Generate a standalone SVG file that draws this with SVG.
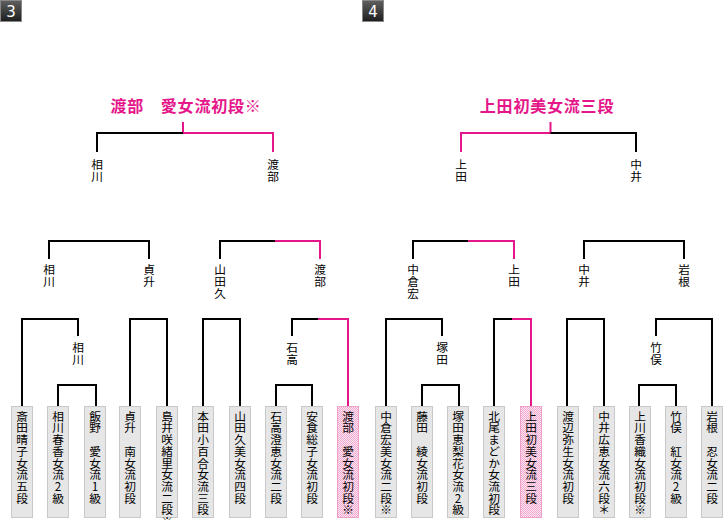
<svg xmlns="http://www.w3.org/2000/svg" width="724" height="520" viewBox="0 0 724 520">
<style>
.v{writing-mode:vertical-rl;text-orientation:upright;font-family:"Noto Sans CJK JP","Noto Sans CJK SC",sans-serif;font-size:11.7px;fill:#000}
.t{font-family:"Noto Sans CJK JP","Noto Sans CJK SC",sans-serif;font-size:16px;font-weight:bold;fill:#e5168a;text-anchor:middle;letter-spacing:0.8px}
.k{stroke:#000;stroke-width:2;fill:none}
.p{stroke:#e5168a;stroke-width:2;fill:none}
.box{fill:#e6e6e6;stroke:#c8c8c8;stroke-width:1}
.pbox{fill:url(#pk);stroke:#f0a0c8;stroke-width:1}
.badge{fill:url(#bg);stroke:#888;stroke-width:1}
.bn{font-family:"DejaVu Sans",sans-serif;font-size:15px;fill:#fff;text-anchor:middle}
</style>
<defs>
<linearGradient id="bg" x1="0" y1="0" x2="0" y2="1"><stop offset="0" stop-color="#606060"/><stop offset="1" stop-color="#1e1e1e"/></linearGradient>
<pattern id="pk" width="2" height="2" patternUnits="userSpaceOnUse"><rect width="2" height="2" fill="#fce6f1"/><rect width="1" height="1" fill="#f3a9cf"/><rect x="1" y="1" width="1" height="1" fill="#f3a9cf"/></pattern>
</defs>

<g id="badge3"><rect class="badge" x="0.5" y="0.5" width="21" height="21"/><text class="bn" x="11" y="16.5">3</text></g>
<g id="badge4"><rect class="badge" x="362.5" y="0.5" width="21" height="21"/><text class="bn" x="373" y="16.5">4</text></g>

<g id="connectors">
<path class="p" d="M183 122V133H273V152"/>
<path class="k" d="M183 133H97V152"/>
<path class="k" d="M49 259V241H149V259"/>
<path class="k" d="M220 259V241H275"/>
<path class="p" d="M275 241H320V259"/>
<path class="k" d="M22 406V319H78V336"/>
<path class="k" d="M130 406V319H167V406"/>
<path class="k" d="M203 406V319H240V406"/>
<path class="k" d="M292 336V319H318"/>
<path class="p" d="M318 319H348V406"/>
<path class="k" d="M58 406V385H96V406"/>
<path class="k" d="M276 406V385H312V406"/>
<path class="p" d="M550.5 122V133H461V152"/>
<path class="k" d="M550.5 133H636V152"/>
<path class="k" d="M413 259V241H468"/>
<path class="p" d="M468 241H514V259"/>
<path class="k" d="M584 259V241H684V259"/>
<path class="k" d="M386 406V319H442V336"/>
<path class="k" d="M494 406V319H512"/>
<path class="p" d="M512 319H531V406"/>
<path class="k" d="M567 406V319H604V406"/>
<path class="k" d="M656 336V319H712V406"/>
<path class="k" d="M422 406V385H459V406"/>
<path class="k" d="M639 406V385H676V406"/>
</g>

<g id="title3"><text class="t" x="186" y="112">渡部　愛女流初段※</text></g>
<g id="title4"><text class="t" x="547" y="112">上田初美女流三段</text></g>

<g id="l-r1a"><text class="v" x="97" y="159">相川</text></g>
<g id="l-r1b"><text class="v" x="273" y="159">渡部</text></g>
<g id="l-r2a"><text class="v" x="49" y="264">相川</text></g>
<g id="l-r2b"><text class="v" x="149" y="264">貞升</text></g>
<g id="l-r2c"><text class="v" x="220" y="264">山田久</text></g>
<g id="l-r2d"><text class="v" x="320" y="264">渡部</text></g>
<g id="l-r3a"><text class="v" x="78" y="342">相川</text></g>
<g id="l-r3b"><text class="v" x="292" y="342">石高</text></g>

<g id="r-r1a"><text class="v" x="461" y="159">上田</text></g>
<g id="r-r1b"><text class="v" x="636" y="159">中井</text></g>
<g id="r-r2a"><text class="v" x="413" y="264">中倉宏</text></g>
<g id="r-r2b"><text class="v" x="514" y="264">上田</text></g>
<g id="r-r2c"><text class="v" x="584" y="264">中井</text></g>
<g id="r-r2d"><text class="v" x="684" y="264">岩根</text></g>
<g id="r-r3a"><text class="v" x="442" y="342">塚田</text></g>
<g id="r-r3b"><text class="v" x="656" y="342">竹俣</text></g>

<g id="p1"><rect class="box" x="11.5" y="406.5" width="21" height="111"/><text class="v" x="22" y="410.5">斎田晴子女流五段</text></g>
<g id="p2"><rect class="box" x="47.5" y="406.5" width="21" height="111"/><text class="v" x="58" y="410.5">相川春香女流2級</text></g>
<g id="p3"><rect class="box" x="84.5" y="406.5" width="21" height="111"/><text class="v" x="95" y="410.5">飯野　愛女流1級</text></g>
<g id="p4"><rect class="box" x="119.5" y="406.5" width="21" height="111"/><text class="v" x="130" y="410.5">貞升　南女流初段</text></g>
<g id="p5"><rect class="box" x="156.5" y="406.5" width="21" height="111"/><text class="v" x="167" y="410.5">島井咲緒里女流二段※</text></g>
<g id="p6"><rect class="box" x="192.5" y="406.5" width="21" height="111"/><text class="v" x="203" y="410.5">本田小百合女流三段</text></g>
<g id="p7"><rect class="box" x="229.5" y="406.5" width="21" height="111"/><text class="v" x="240" y="410.5">山田久美女流四段</text></g>
<g id="p8"><rect class="box" x="265.5" y="406.5" width="21" height="111"/><text class="v" x="276" y="410.5">石高澄恵女流二段</text></g>
<g id="p9"><rect class="box" x="301.5" y="406.5" width="21" height="111"/><text class="v" x="312" y="410.5">安食総子女流初段</text></g>
<g id="p10"><rect class="pbox" x="337.5" y="406.5" width="21" height="111"/><text class="v" x="348" y="410.5">渡部　愛女流初段※</text></g>

<g id="p11"><rect class="box" x="375.5" y="406.5" width="21" height="111"/><text class="v" x="386" y="410.5">中倉宏美女流二段※</text></g>
<g id="p12"><rect class="box" x="411.5" y="406.5" width="21" height="111"/><text class="v" x="422" y="410.5">藤田　綾女流初段</text></g>
<g id="p13"><rect class="box" x="447.5" y="406.5" width="21" height="111"/><text class="v" x="458" y="410.5">塚田恵梨花女流2級</text></g>
<g id="p14"><rect class="box" x="483.5" y="406.5" width="21" height="111"/><text class="v" x="494" y="410.5">北尾まどか女流初段</text></g>
<g id="p15"><rect class="pbox" x="520.5" y="406.5" width="21" height="111"/><text class="v" x="531" y="410.5">上田初美女流三段</text></g>
<g id="p16"><rect class="box" x="557.5" y="406.5" width="21" height="111"/><text class="v" x="568" y="410.5">渡辺弥生女流初段</text></g>
<g id="p17"><rect class="box" x="593.5" y="406.5" width="21" height="111"/><text class="v" x="604" y="410.5">中井広恵女流六段＊</text></g>
<g id="p18"><rect class="box" x="629.5" y="406.5" width="21" height="111"/><text class="v" x="640" y="410.5">上川香織女流初段※</text></g>
<g id="p19"><rect class="box" x="665.5" y="406.5" width="21" height="111"/><text class="v" x="676" y="410.5">竹俣　紅女流2級</text></g>
<g id="p20"><rect class="box" x="701.5" y="406.5" width="21" height="111"/><text class="v" x="712" y="410.5">岩根　忍女流二段</text></g>
</svg>
